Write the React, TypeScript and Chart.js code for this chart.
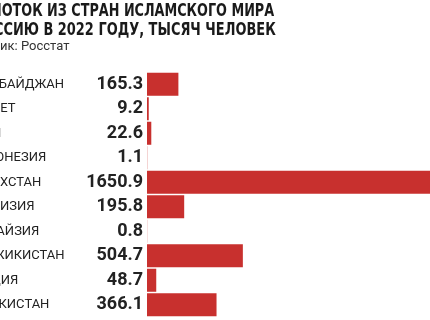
import React, { useEffect, useRef } from "react";
import { Chart, registerables } from "chart.js";

Chart.register(...registerables);

const countries = [
  "АЗЕРБАЙДЖАН",
  "ЕГИПЕТ",
  "ИРАН",
  "ИНДОНЕЗИЯ",
  "КАЗАХСТАН",
  "КИРГИЗИЯ",
  "МАЛАЙЗИЯ",
  "ТАДЖИКИСТАН",
  "ТУРЦИЯ",
  "УЗБЕКИСТАН",
];
const values = [165.3, 9.2, 22.6, 1.1, 1650.9, 195.8, 0.8, 504.7, 48.7, 366.1];
const valueLabels = ["165.3", "9.2", "22.6", "1.1", "1650.9", "195.8", "0.8", "504.7", "48.7", "366.1"];
const titleLine1 = "ПОТОК ИЗ СТРАН ИСЛАМСКОГО МИРА";
const titleLine2 = "В РОССИЮ В 2022 ГОДУ, ТЫСЯЧ ЧЕЛОВЕК";
const sourceText = "Источник: Росстат";
const xMax = 1490;

const CANVAS_LEFT = -37;
const CANVAS_W = 467;
const CANVAS_H = 320;

const noPad = (s: any, w: number) => {
  s.width = w;
  s.paddingTop = 0;
  s.paddingBottom = 0;
  s.paddingLeft = 0;
  s.paddingRight = 0;
};

export default function App() {
  const ref = useRef<HTMLCanvasElement | null>(null);

  useEffect(() => {
    if (!ref.current) return;
    const chart = new Chart(ref.current, {
      type: "bar",
      data: {
        labels: countries,
        datasets: [
          {
            data: values,
            backgroundColor: "#c8302e",
            borderWidth: 0,
            barPercentage: 0.94,
            categoryPercentage: 1,
            yAxisID: "y",
          },
        ],
      },
      options: {
        indexAxis: "y",
        animation: false,
        responsive: false,
        maintainAspectRatio: false,
        layout: { padding: { top: 72, bottom: 3, left: 4, right: 0 } },
        plugins: {
          legend: { display: false },
          tooltip: { enabled: false },
          title: { display: false },
        },
        scales: {
          x: { min: 0, max: xMax, display: false },
          y: {
            type: "category",
            position: "left",
            weight: 1,
            offset: true,
            grid: { display: false, drawTicks: false },
            border: { display: false },
            ticks: {
              crossAlign: "far",
              autoSkip: false,
              color: "#222",
              padding: 0,
              font: { family: "Roboto", size: 13 },
            },
            afterFit: (s: any) => noPad(s, 120),
          },
          yv: {
            type: "category",
            labels: valueLabels,
            position: "left",
            weight: 0,
            offset: true,
            grid: { display: false, drawTicks: false },
            border: { display: false },
            ticks: {
              autoSkip: false,
              color: "#222",
              padding: 4,
              font: { family: "Roboto", size: 18, weight: "bold" },
            },
            afterFit: (s: any) => noPad(s, 60),
          },
        },
      },
    } as any);
    return () => chart.destroy();
  }, []);

  const titleStyle: React.CSSProperties = {
    position: "absolute",
    fontFamily: '"DejaVu Sans Condensed", "DejaVu Sans", sans-serif',
    fontStretch: "condensed",
    fontWeight: "bold",
    fontSize: 18,
    lineHeight: "18px",
    color: "#1a1a1a",
    whiteSpace: "nowrap",
    transformOrigin: "0 0",
  };

  return (
    <div
      style={{
        position: "absolute",
        left: 0,
        top: 0,
        width: 430,
        height: 320,
        overflow: "hidden",
        background: "#fff",
      }}
    >
      <canvas
        ref={ref}
        width={CANVAS_W}
        height={CANVAS_H}
        style={{ position: "absolute", left: CANVAS_LEFT, top: 0, width: CANVAS_W, height: CANVAS_H }}
      />
      <div style={{ ...titleStyle, left: -9.5, top: 1, transform: "scaleX(0.79)" }}>{titleLine1}</div>
      <div style={{ ...titleStyle, left: -41, top: 20, transform: "scaleX(0.8)" }}>{titleLine2}</div>
      <div
        style={{
          position: "absolute",
          left: -44,
          top: 39,
          fontFamily: "Roboto",
          fontSize: 13,
          lineHeight: "13px",
          color: "#333",
          whiteSpace: "nowrap",
        }}
      >
        {sourceText}
      </div>
    </div>
  );
}
